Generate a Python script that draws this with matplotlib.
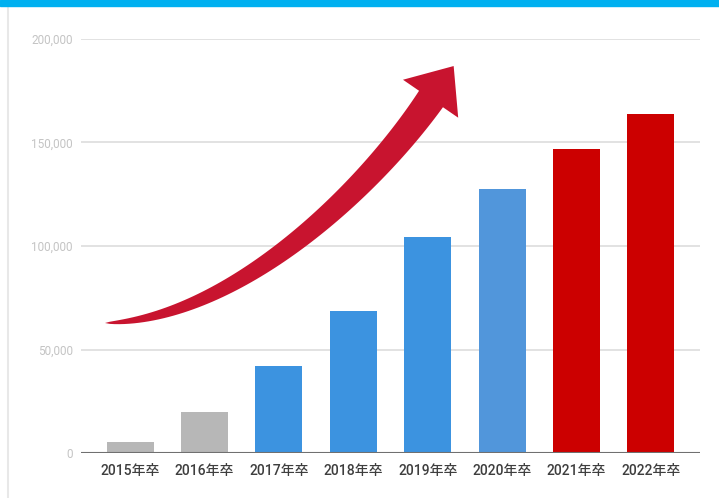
import numpy as np
import matplotlib.pyplot as plt
from matplotlib.patches import Polygon, Rectangle
from matplotlib.lines import Line2D

plt.rcParams['font.family'] = ['Roboto', 'Noto Sans CJK JP', 'DejaVu Sans']

# data
years = ['2015年卒', '2016年卒', '2017年卒', '2018年卒',
         '2019年卒', '2020年卒', '2021年卒', '2022年卒']
values = [5500, 20000, 41800, 68800, 104500, 127500, 146800, 163800]
bar_colors = ['#b7b7b7', '#b7b7b7', '#3c93e0', '#3c93e0',
              '#3c93e0', '#5196db', '#cc0000', '#cc0000']
yticks = [0, 50000, 100000, 150000, 200000]

fig = plt.figure(figsize=(7.19, 4.98), dpi=100)
ax = fig.add_axes([81 / 719, 1 - 453 / 498, 619 / 719, 414 / 498])

x = np.arange(len(years))
ax.bar(x, values, width=0.63, color=bar_colors, zorder=3)

ax.set_xlim(-0.66, len(years) - 0.34)
ax.set_ylim(0, 200000)
ax.set_yticks(yticks)
ax.set_yticklabels([f'{v:,}' for v in yticks], fontsize=8.5, color='#c4c4c4')
ax.set_xticks(x)
ax.set_xticklabels(years, fontsize=10, color='#3e3e3e', fontweight='medium')
ax.tick_params(axis='both', length=0)
ax.tick_params(axis='y', pad=6)
ax.tick_params(axis='x', pad=8)
ax.grid(axis='y', color='#e2e2e2', linewidth=1.4, zorder=0)
for s in ax.spines.values():
    s.set_visible(False)
ax.axhline(0, color='#707070', linewidth=1.5, zorder=4)

# top cyan strip and faint left border
fig.patches.append(Rectangle((0, 1 - 6 / 498), 1, 6 / 498, transform=fig.transFigure,
                             color='#00b0f0', zorder=10))
fig.lines.append(Line2D([7.5 / 719, 7.5 / 719], [0, 1 - 6 / 498], transform=fig.transFigure,
                        color='#e8e8e8', linewidth=1.5))

# curved tapered arrow (decoration), built in pixel space
P = np.array([[105, 323], [230, 320], [365, 195], [431, 99]], dtype=float)
t = np.linspace(0, 1, 80)[:, None]
pts = ((1 - t) ** 3 * P[0] + 3 * (1 - t) ** 2 * t * P[1]
       + 3 * (1 - t) * t ** 2 * P[2] + t ** 3 * P[3])
d = (-3 * (1 - t) ** 2 * P[0] + 3 * ((1 - t) ** 2 - 2 * t * (1 - t)) * P[1]
     + 3 * (2 * t * (1 - t) - t ** 2) * P[2] + 3 * t ** 2 * P[3])
d = d / np.linalg.norm(d, axis=1, keepdims=True)
nrm = np.column_stack([d[:, 1], -d[:, 0]])
w = 29 * t[:, 0] ** 0.6 / 2
upper = pts + nrm * w[:, None]
lower = pts - nrm * w[:, None]
end, dirn, n_end = pts[-1], d[-1], nrm[-1]
head = [end + n_end * 34, end + dirn * 40, end - n_end * 33]
outline = np.vstack([upper, head, lower[::-1]])
outline = np.column_stack([outline[:, 0] / 719, 1 - outline[:, 1] / 498])
fig.patches.append(Polygon(outline, closed=True, transform=fig.transFigure,
                           facecolor='#c8142f', edgecolor='none', zorder=5))

fig.savefig('out.png', dpi=100)
